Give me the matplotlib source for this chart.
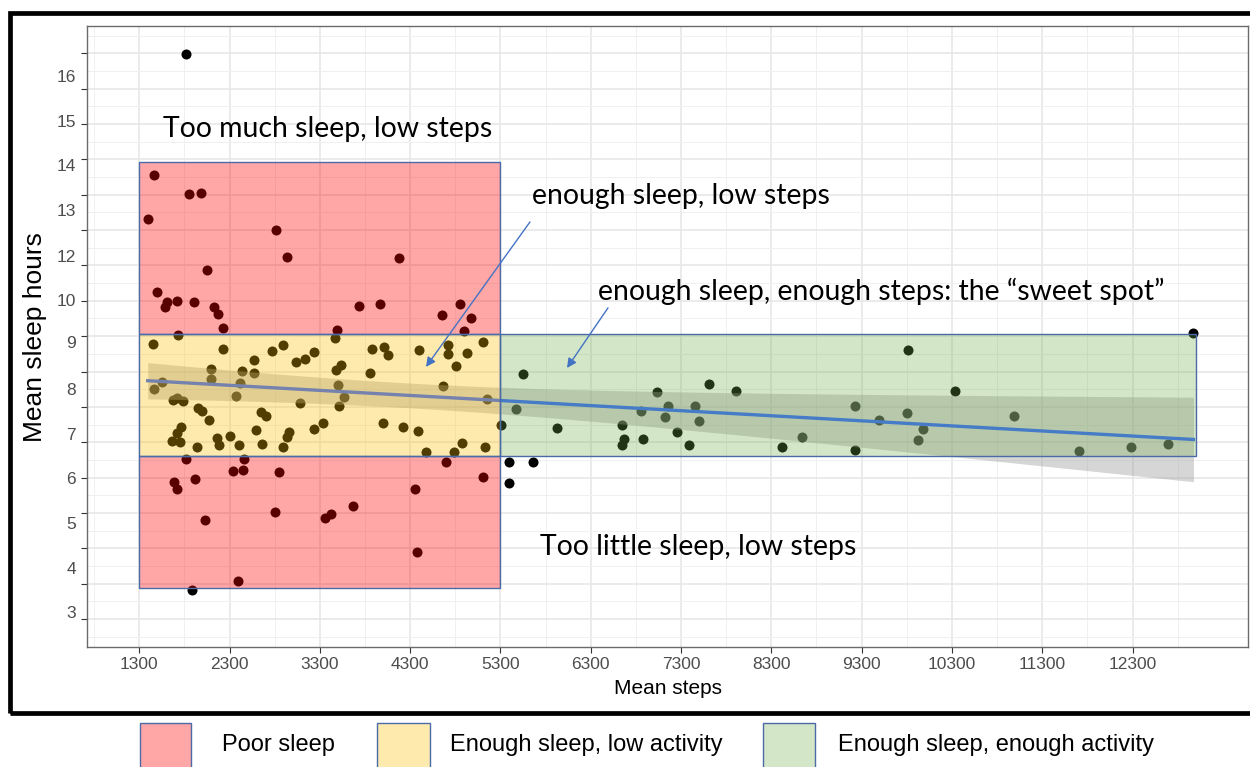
import numpy as np
import matplotlib
matplotlib.use("Agg")
import matplotlib.pyplot as plt
from matplotlib.patches import Rectangle
from matplotlib.transforms import blended_transform_factory

# per-user means: steps and sleep hours
mean_steps = [
    1466, 1854, 1987, 1393, 2814, 2939, 2050, 1499, 1610, 1588, 1721, 1906,
    2131, 2175, 2227, 1725, 4180, 3737, 3966, 4652, 4852, 4970, 4893, 3486,
    1452, 2230, 2766, 2895, 2574, 3035, 3138, 3231, 2094, 2091, 2434, 2567,
    2412, 2371, 1548, 1466, 1670, 1714, 1781, 3076, 1950, 1998, 2069, 2648,
    2703, 1765, 1714, 1665, 1747, 1936, 2164, 2183, 2301, 2404, 2592, 2662,
    2888, 2932, 2955, 3238, 3331, 3467, 3874, 4013, 4051, 4398, 4722, 4719,
    4926, 5103, 3534, 3475, 3858, 4807, 3504, 3570, 3515, 4667, 5147, 4002,
    4224, 4387, 4479, 4782, 4874, 5129, 5302,
    1817, 2463, 2338, 2445, 2844, 1681, 1718, 1917, 2024, 2803, 3357, 3423,
    3670, 2396, 4357, 4700, 5110, 4379,
    1880, 5391, 5391, 5660, 1814, 12975,
    5545, 5470, 5926, 6651, 6672, 6647, 6882, 6857, 7032, 7153, 7123, 7253,
    7383, 7459, 7499, 7614, 7904, 8415, 8635, 9222, 9232, 9487, 9818, 9798,
    9978, 9923, 10338, 10985, 11706, 12282, 12698,
]
mean_sleep = [
    13.57, 13.03, 13.06, 12.31, 12.00, 11.23, 10.87, 10.26, 9.96, 9.83, 9.98, 9.96,
    9.83, 9.63, 9.23, 9.03, 11.20, 9.85, 9.90, 9.60, 9.90, 9.51, 9.14, 9.17,
    8.78, 8.65, 8.59, 8.74, 8.32, 8.27, 8.36, 8.54, 8.06, 7.80, 8.01, 7.96,
    7.67, 7.31, 7.70, 7.51, 7.19, 7.24, 7.16, 7.11, 6.96, 6.88, 6.63, 6.85,
    6.75, 6.42, 6.26, 6.04, 6.00, 5.86, 6.11, 5.91, 6.19, 5.92, 6.35, 5.96,
    5.87, 6.14, 6.30, 6.38, 6.55, 8.94, 8.64, 8.69, 8.46, 8.61, 8.74, 8.50,
    8.52, 8.83, 8.17, 8.04, 7.95, 8.16, 7.62, 7.29, 7.02, 7.59, 7.22, 6.54,
    6.44, 6.33, 5.72, 5.72, 5.97, 5.87, 6.49,
    5.53, 5.54, 5.20, 5.22, 5.15, 4.87, 4.69, 4.97, 3.81, 4.03, 3.87, 3.96,
    4.20, 2.08, 4.69, 5.45, 5.02, 2.89,
    1.81, 5.43, 4.84, 5.44, 16.97, 9.10,
    7.94, 6.93, 6.41, 6.49, 6.10, 5.91, 6.09, 6.88, 7.42, 7.03, 6.71, 6.28,
    5.92, 7.03, 6.60, 7.66, 7.45, 5.87, 6.16, 7.03, 5.78, 6.62, 8.62, 6.82,
    6.37, 6.06, 7.44, 6.74, 5.76, 5.87, 5.96,
]

# shaded zones: (x0, x1, y0, y1)
zone_poor_high = (1300, 5300, 9.05, 13.92)
zone_poor_low = (1300, 5300, 1.89, 5.62)
zone_low_act = (1300, 5300, 5.62, 9.05)
zone_sweet = (5300, 13000, 5.62, 9.05)

x_breaks = list(range(1300, 12301, 1000))
y_breaks = list(range(1, 18))
y_label_text = ['16', '15', '14', '13', '12', '10', '9', '8', '7', '6', '5', '4', '3']
y_label_at = [16.30, 15.03, 13.80, 12.53, 11.21, 9.98, 8.78, 7.45, 6.18, 4.94, 3.68, 2.41, 1.15]

legend_labels = ['Poor sleep', 'Enough sleep, low activity', 'Enough sleep, enough activity']

RED = (1.0, 0.0, 0.0)
AMBER = (1.0, 0.753, 0.0)
GREEN = (0.439, 0.678, 0.278)
EDGE = '#4a6aa8'
ARROW = '#4472C4'
SANS = ['Liberation Sans', 'DejaVu Sans']
CAL = ['Lato', 'DejaVu Sans']


def lm_band(x, y, grid):
    x = np.asarray(x, float)
    y = np.asarray(y, float)
    n = len(x)
    b1, b0 = np.polyfit(x, y, 1)
    resid = y - (b0 + b1 * x)
    s = np.sqrt(np.sum(resid ** 2) / (n - 2))
    sxx = np.sum((x - x.mean()) ** 2)
    fit = b0 + b1 * grid
    se = s * np.sqrt(1.0 / n + (grid - x.mean()) ** 2 / sxx)
    t = 1.9766  # t quantile, 0.975, df ~ 144
    return fit, fit - t * se, fit + t * se


fig = plt.figure(figsize=(12.5, 7.67), dpi=100)
ax = fig.add_axes([87 / 1250, 1 - 647 / 767, (1248 - 87) / 1250, (647 - 26) / 767])

ax.set_xlim(721, 13579)
ax.set_ylim(0.21, 17.77)

ax.set_xticks(x_breaks)
ax.set_xticklabels([str(v) for v in x_breaks])
ax.set_xticks(np.arange(800, 13301, 1000), minor=True)
ax.set_yticks(y_breaks)
ax.set_yticklabels([])
ax.set_yticks(np.arange(0.5, 18, 1), minor=True)
ax.grid(True, which='major', color='#e6e6e6', lw=1.1, zorder=0)
ax.grid(True, which='minor', color='#f0f0f0', lw=0.7, zorder=0)
ax.set_axisbelow(True)
ax.tick_params(which='major', length=4, width=0.8, color='#333333',
               labelsize=12.5, labelcolor='#4d4d4d', pad=3)
ax.tick_params(which='minor', length=0)
for lab in ax.get_xticklabels():
    lab.set_family(SANS)
for sp in ax.spines.values():
    sp.set_color('#6b6b6b')
    sp.set_linewidth(1.0)

ytrans = blended_transform_factory(ax.transAxes, ax.transData)
for txt, pos in zip(y_label_text, y_label_at):
    ax.text(-0.0095, pos, txt, transform=ytrans, ha='right', va='center',
            fontsize=12.5, color='#4d4d4d', family=SANS)

# points, then smoother on top of them
ax.scatter(mean_steps, mean_sleep, s=52, color='black', linewidths=0, zorder=2)
grid = np.linspace(min(mean_steps), max(mean_steps), 200)
fit, lo, hi = lm_band(mean_steps, mean_sleep, grid)
ax.fill_between(grid, lo, hi, color='#999999', alpha=0.4, linewidth=0, zorder=3)
ax.plot(grid, fit, color='#3366FF', lw=2.4, zorder=4)

# translucent zones over everything
for (x0, x1, y0, y1), col, a in [
    (zone_poor_high, RED, 0.35),
    (zone_poor_low, RED, 0.35),
    (zone_low_act, AMBER, 0.32),
    (zone_sweet, GREEN, 0.30),
]:
    ax.add_patch(Rectangle((x0, y0), x1 - x0, y1 - y0, facecolor=col, alpha=a,
                           edgecolor='none', zorder=5))
    ax.add_patch(Rectangle((x0, y0), x1 - x0, y1 - y0, facecolor='none',
                           edgecolor=EDGE, lw=1.0, zorder=6))

note_size = 20.4
ax.text(1562, 14.63, 'Too much sleep, low steps', fontsize=note_size, family=CAL,
        va='baseline', zorder=7)
ax.text(5649, 12.74, 'enough sleep, low steps', fontsize=note_size, family=CAL,
        va='baseline', zorder=7)
ax.text(6382, 10.02, 'enough sleep, enough steps: the \u201csweet spot\u201d',
        fontsize=note_size, family=CAL, va='baseline', zorder=7)
ax.text(5738, 2.81, 'Too little sleep, low steps', fontsize=note_size, family=CAL,
        va='baseline', zorder=7)

arrow = dict(arrowstyle='-|>', color=ARROW, lw=1.0, mutation_scale=14,
             shrinkA=0, shrinkB=0)
ax.annotate('', xy=(4475, 8.13), xytext=(5627, 12.23), arrowprops=arrow, zorder=7)
ax.annotate('', xy=(6037, 8.10), xytext=(6491, 9.80), arrowprops=arrow, zorder=7)

fig.text(668 / 1250, 1 - 688 / 767, 'Mean steps', ha='center', va='center',
         fontsize=15, family=SANS)
fig.text(35 / 1250, 1 - 337 / 767, 'Mean sleep hours', ha='center', va='center',
         rotation=90, fontsize=19, family=SANS)

# heavy black frame
fig.patches.append(Rectangle((10.3 / 1250, 1 - 712.5 / 767), 1.1, 700 / 767,
                             transform=fig.transFigure, fill=False,
                             edgecolor='black', lw=3.4))

# legend strip below the frame
boxes = [(140, 191, RED, 0.35), (377, 430, AMBER, 0.32), (763, 815, GREEN, 0.30)]
text_x = [222, 450, 838]
for (x0, x1, col, a), tx, lab in zip(boxes, text_x, legend_labels):
    fig.patches.append(Rectangle((x0 / 1250, -0.02), (x1 - x0) / 1250,
                                 (767 - 723) / 767 + 0.02,
                                 transform=fig.transFigure, facecolor=col,
                                 alpha=a, edgecolor='none'))
    fig.patches.append(Rectangle((x0 / 1250, -0.02), (x1 - x0) / 1250,
                                 (767 - 723) / 767 + 0.02,
                                 transform=fig.transFigure, facecolor='none',
                                 edgecolor=EDGE, lw=1.0))
    fig.text(tx / 1250, 1 - 745 / 767, lab, ha='left', va='center',
             fontsize=17, family=['Liberation Sans Narrow'] + SANS)

fig.savefig('out.png', dpi=100)
